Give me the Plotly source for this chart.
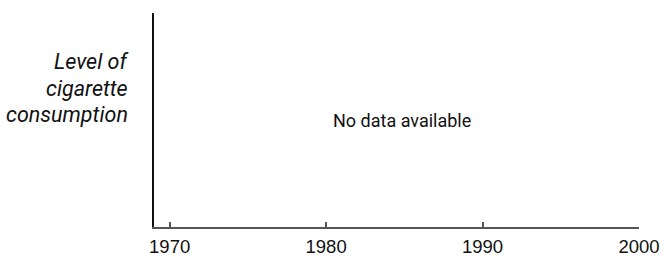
import plotly.graph_objects as go

years = [1970, 1980, 1990, 2000]
tick_labels = ["1970", "1980", "1990", "2000"]
consumption = []  # no data available
y_label_lines = ["Level of", "cigarette", "consumption"]
message = "No data available"

W, H = 664, 257
L, R, T, B = 154, 25, 13, 30
pw = W - L - R
ph = H - T - B

def py(y_px):
    return 1 - (y_px - T) / ph

def px(x_px):
    return (x_px - L) / pw

fig = go.Figure()
fig.add_trace(go.Scatter(x=[], y=consumption, mode="lines", showlegend=False))

annotations = [
    dict(text=message, xref="paper", yref="paper",
         x=px(402), y=py(121), xanchor="center", yanchor="middle", showarrow=False,
         font=dict(family="Roboto", size=18, color="#111111")),
]
line_centers = [61, 88, 114]
for txt, yc in zip(y_label_lines, line_centers):
    annotations.append(dict(
        text=txt, xref="paper", yref="paper", x=px(130), y=py(yc),
        xanchor="right", yanchor="middle", align="right", showarrow=False,
        font=dict(family="Roboto", size=21.5, style="italic", color="#111111")))

fig.update_layout(
    width=W, height=H,
    margin=dict(l=L, r=R, t=T, b=B, pad=0),
    plot_bgcolor="white", paper_bgcolor="white",
    showlegend=False,
    xaxis=dict(
        range=[1969, 2000], tickmode="array", tickvals=years, ticktext=tick_labels,
        showline=True, linecolor="#555555", linewidth=1.5,
        ticks="inside", ticklen=5, tickcolor="#555555", tickwidth=1.5,
        showgrid=False, zeroline=False, automargin=False,
        tickfont=dict(family="Liberation Sans, Arial", size=18.5, color="#111111"),
        ticklabelstandoff=2,
    ),
    yaxis=dict(
        range=[0, 1], showline=True, linecolor="#111111", linewidth=1.5,
        showticklabels=False, ticks="", showgrid=False, zeroline=False,
        automargin=False,
    ),
    annotations=annotations,
)
fig.write_html("out.html", config={"displayModeBar": False},
               post_script="document.body.style.margin='0';document.body.style.overflow='hidden';")
